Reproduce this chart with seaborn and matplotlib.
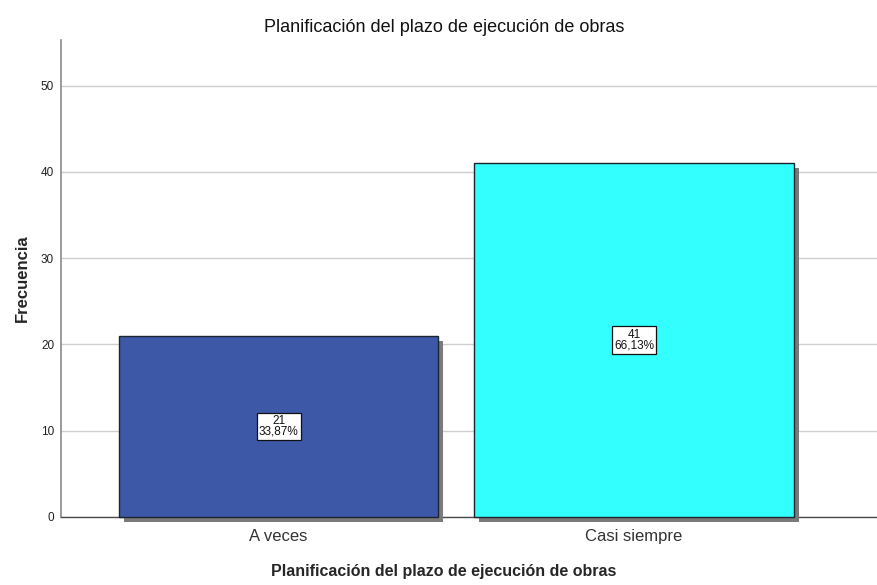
import matplotlib
matplotlib.use("Agg")
import matplotlib.pyplot as plt
import matplotlib.patheffects as pe
import seaborn as sns
import pandas as pd

# =============================================================================
# DATA
# =============================================================================

categories = ["A veces", "Casi siempre"]
counts = [21, 41]
percents = ["33,87%", "66,13%"]
bar_colors = ["#3E58A8", "#33FFFF"]

title = "Planificación del plazo de ejecución de obras"
x_label = "Planificación del plazo de ejecución de obras"
y_label = "Frecuencia"
y_ticks = [0, 10, 20, 30, 40, 50]

df = pd.DataFrame({"categoria": categories, "frecuencia": counts})

# =============================================================================
# PLOT
# =============================================================================

sns.set_style("white")
plt.rcParams["font.family"] = ["Liberation Sans", "DejaVu Sans"]

fig = plt.figure(figsize=(8.77, 5.85), dpi=100)
ax = fig.add_axes([0.0696, 0.1163, 0.9304, 0.8154])

sns.barplot(
    data=df,
    x="categoria",
    y="frecuencia",
    hue="categoria",
    palette=bar_colors,
    saturation=1,
    width=0.9,
    edgecolor="#1c2430",
    linewidth=1.0,
    legend=False,
    ax=ax,
    zorder=3,
)

# SPSS style drop shadow
for bar in ax.patches:
    bar.set_clip_on(False)
    bar.set_path_effects([
        pe.SimplePatchShadow(offset=(3.6, -3.6), shadow_rgbFace="#7a7a7a", alpha=1.0),
        pe.Normal(),
    ])

# count / percent boxes
for container, n, p in zip(ax.containers, counts, percents):
    ax.bar_label(
        container,
        labels=[f"{n}\n{p}"],
        label_type="center",
        fontsize=8.5,
        linespacing=0.9,
        color="#111111",
        bbox=dict(boxstyle="square,pad=0.18", facecolor="white",
                  edgecolor="#111111", linewidth=0.9),
        zorder=5,
    )

ax.set_ylim(0, 55.3)
ax.set_xlim(-0.612, 1.684)
ax.set_yticks(y_ticks)
ax.yaxis.grid(True, color="#cfcfcf", linewidth=1.0, zorder=0)
ax.set_axisbelow(True)

for side in ["top", "right"]:
    ax.spines[side].set_visible(False)
ax.spines["left"].set_color("#8a8a8a")
ax.spines["left"].set_linewidth(1.2)
ax.spines["bottom"].set_color("#4a4a4a")
ax.spines["bottom"].set_linewidth(1.0)

ax.tick_params(axis="y", length=0, pad=5, labelsize=8.5, labelcolor="#222222")
ax.tick_params(axis="x", length=0, pad=9, labelsize=12, labelcolor="#333333")

# title and x label sit at the figure centre, not the axes centre
ax.set_title(title, fontsize=13, pad=6, x=0.469, color="#111111")
ax.set_xlabel(x_label, fontsize=11.5, fontweight="bold", labelpad=14)
ax.xaxis.label.set_x(0.469)
ax.set_ylabel(y_label, fontsize=12, fontweight="bold", labelpad=8)

fig.savefig("out.png", dpi=100)
